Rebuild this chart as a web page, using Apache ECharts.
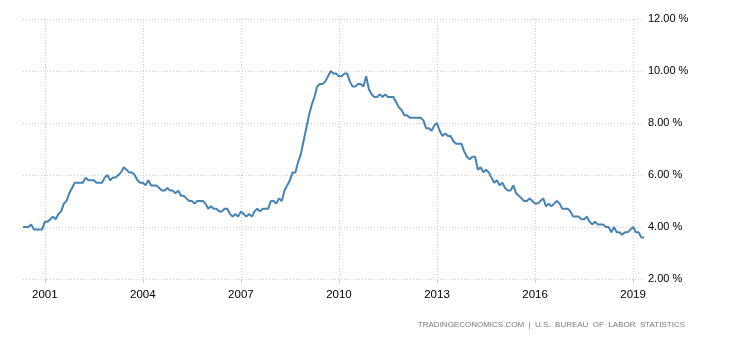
<!DOCTYPE html>
<html>
<head>
<meta charset="utf-8">
<script src="https://cdn.jsdelivr.net/npm/echarts@6/dist/echarts.min.js"></script>
<style>html,body{margin:0;padding:0;background:#fff}#c{width:730px;height:340px}</style>
</head>
<body>
<div id="c"></div>
<script>
// Monthly US unemployment rate, May 2000 - May 2019
var startYear = 2000, startMonth = 5;
var values = [
  4.0, 4.0, 4.0, 4.1, 3.9, 3.9, 3.9, 3.9,
  4.2, 4.2, 4.3, 4.4, 4.3, 4.5, 4.6, 4.9, 5.0, 5.3, 5.5, 5.7,
  5.7, 5.7, 5.7, 5.9, 5.8, 5.8, 5.8, 5.7, 5.7, 5.7, 5.9, 6.0,
  5.8, 5.9, 5.9, 6.0, 6.1, 6.3, 6.2, 6.1, 6.1, 6.0, 5.8, 5.7,
  5.7, 5.6, 5.8, 5.6, 5.6, 5.6, 5.5, 5.4, 5.4, 5.5, 5.4, 5.4,
  5.3, 5.4, 5.2, 5.2, 5.1, 5.0, 5.0, 4.9, 5.0, 5.0, 5.0, 4.9,
  4.7, 4.8, 4.7, 4.7, 4.6, 4.6, 4.7, 4.7, 4.5, 4.4, 4.5, 4.4,
  4.6, 4.5, 4.4, 4.5, 4.4, 4.6, 4.7, 4.6, 4.7, 4.7, 4.7, 5.0,
  5.0, 4.9, 5.1, 5.0, 5.4, 5.6, 5.8, 6.1, 6.1, 6.5, 6.8, 7.3,
  7.8, 8.3, 8.7, 9.0, 9.4, 9.5, 9.5, 9.6, 9.8, 10.0, 9.9, 9.9,
  9.8, 9.8, 9.9, 9.9, 9.6, 9.4, 9.4, 9.5, 9.5, 9.4, 9.8, 9.3,
  9.1, 9.0, 9.0, 9.1, 9.0, 9.1, 9.0, 9.0, 9.0, 8.8, 8.6, 8.5,
  8.3, 8.3, 8.2, 8.2, 8.2, 8.2, 8.2, 8.1, 7.8, 7.8, 7.7, 7.9,
  8.0, 7.7, 7.5, 7.6, 7.5, 7.5, 7.3, 7.2, 7.2, 7.2, 6.9, 6.7,
  6.6, 6.7, 6.7, 6.2, 6.3, 6.1, 6.2, 6.1, 5.9, 5.7, 5.8, 5.6,
  5.7, 5.5, 5.4, 5.4, 5.6, 5.3, 5.2, 5.1, 5.0, 5.0, 5.1, 5.0,
  4.9, 4.9, 5.0, 5.1, 4.8, 4.9, 4.8, 4.9, 5.0, 4.9, 4.7, 4.7,
  4.7, 4.6, 4.4, 4.4, 4.4, 4.3, 4.3, 4.4, 4.2, 4.1, 4.2, 4.1,
  4.1, 4.1, 4.0, 4.0, 3.8, 4.0, 3.8, 3.8, 3.7, 3.8, 3.8, 3.9,
  4.0, 3.8, 3.8, 3.6, 3.6
];
var tickYears = [2001, 2004, 2007, 2010, 2013, 2016, 2019];
var yTicks = [2, 4, 6, 8, 10, 12];
var sourceText = 'TRADINGECONOMICS.COM  |  U.S.  BUREAU  OF  LABOR  STATISTICS';

var months = values.map(function (v, i) {
  var m = startMonth - 1 + i;
  var y = startYear + Math.floor(m / 12);
  var mm = (m % 12) + 1;
  return y + '-' + (mm < 10 ? '0' : '') + mm;
});
function isTick(idx) {
  var s = months[idx];
  return s.slice(5) === '01' && tickYears.indexOf(+s.slice(0, 4)) >= 0;
}

var chart = echarts.init(document.getElementById('c'), null, {renderer: 'canvas'});
chart.setOption({
  animation: false,
  backgroundColor: '#fff',
  grid: {left: 23, right: 86, top: 19, bottom: 61},
  xAxis: {
    type: 'category',
    data: months,
    boundaryGap: false,
    axisLine: {show: false},
    axisTick: {show: true, length: 4, interval: function (i) { return isTick(i); }, lineStyle: {color: '#ccc'}},
    axisLabel: {
      interval: function (i) { return isTick(i); },
      formatter: function (v) { return v.slice(0, 4); },
      color: '#000', fontFamily: 'Liberation Sans', fontSize: 11.5, margin: 10
    },
    splitLine: {show: true, interval: function (i) { return isTick(i); }, lineStyle: {color: '#ccc', type: [1, 2], width: 1}}
  },
  yAxis: {
    type: 'value',
    position: 'right',
    min: yTicks[0], max: yTicks[yTicks.length - 1], interval: 2,
    axisLine: {show: false},
    axisTick: {show: false},
    axisLabel: {
      formatter: function (v) { return v.toFixed(2) + ' %'; },
      color: '#000', fontFamily: 'Liberation Sans', fontSize: 11, margin: 4
    },
    splitLine: {show: true, lineStyle: {color: '#ccc', type: [1, 2], width: 1}}
  },
  graphic: [{
    type: 'text', right: 45, top: 321,
    style: {text: sourceText, fill: '#7a7a7a', font: '8px "Liberation Sans"'}
  }],
  series: [{
    type: 'line',
    data: values,
    showSymbol: false,
    lineStyle: {color: '#4682b4', width: 2},
    itemStyle: {color: '#4682b4'}
  }]
});
</script>
</body>
</html>
